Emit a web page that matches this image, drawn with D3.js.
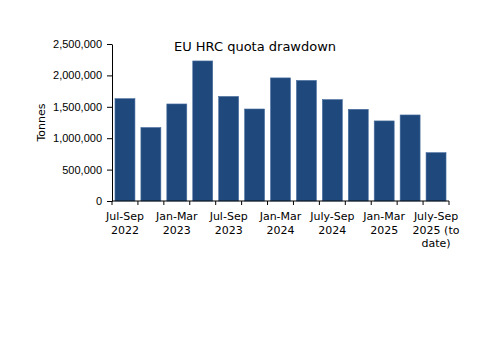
<!DOCTYPE html>
<html>
<head>
<meta charset="utf-8">
<script src="https://cdn.jsdelivr.net/npm/d3@7"></script>
<style>
  body { margin: 0; background: #fff; }
  svg { font-family: "DejaVu Sans", Verdana, sans-serif; }
</style>
</head>
<body>
<svg id="chart" width="500" height="353"></svg>
<script>
// quarters, one bar each
const quarters = ['Jul-Sep 2022', 'Oct-Dec 2022', 'Jan-Mar 2023', 'Apr-Jun 2023', 'Jul-Sep 2023', 'Oct-Dec 2023',
    'Jan-Mar 2024', 'Apr-Jun 2024', 'July-Sep 2024', 'Oct-Dec 2024', 'Jan-Mar 2025', 'Apr-Jun 2025', 'July-Sep 2025 (to date)'];
// tonnes drawn from the quota
const tonnes = [1630000, 1170000, 1545000, 2230000, 1665000, 1465000,
    1960000, 1920000, 1615000, 1460000, 1275000, 1370000, 770000];
// only every other quarter gets a label, split on lines
const tickLabels = [['Jul-Sep', '2022'], [], ['Jan-Mar', '2023'], [], ['Jul-Sep', '2023'], [],
    ['Jan-Mar', '2024'], [], ['July-Sep', '2024'], [], ['Jan-Mar', '2025'], [], ['July-Sep', '2025 (to', 'date)']];
const yTicks = [0, 500000, 1000000, 1500000, 2000000, 2500000];

const MARGIN = { left: 112, right: 51, top: 44, bottom: 152 };
const WIDTH = 500, HEIGHT = 353;
const BAR_COLOR = '#1f497d';

const svg = d3.select('#chart');
const data = quarters.map((q, i) => ({ q, v: tonnes[i], label: tickLabels[i] }));

const PAD = 0.23;
const xScale = d3.scaleBand()
    .domain(quarters)
    .range([MARGIN.left, WIDTH - MARGIN.right])
    .paddingInner(PAD)
    .paddingOuter(PAD / 2);
const yScale = d3.scaleLinear()
    .domain([0, 2500000])
    .range([HEIGHT - MARGIN.bottom, MARGIN.top]);

// bars
svg.append('g')
    .selectAll('rect')
    .data(data)
    .join('rect')
    .attr('x', d => xScale(d.q))
    .attr('y', d => yScale(d.v))
    .attr('width', xScale.bandwidth())
    .attr('height', d => yScale(0) - yScale(d.v))
    .attr('fill', BAR_COLOR)
    .attr('stroke', '#4a6f9f')
    .attr('stroke-width', 0.6);

// y axis
const yAxis = svg.append('g')
    .attr('transform', `translate(${MARGIN.left},0)`)
    .call(d3.axisLeft(yScale).tickValues(yTicks).tickFormat(d3.format(',')).tickSize(5).tickSizeOuter(0));
yAxis.selectAll('text').attr('font-size', 11).attr('fill', '#000').attr('font-family', null).attr('dx', '-2');
yAxis.selectAll('line, path').attr('stroke', '#000');

// x axis: ticks sit on band boundaries, labels centred on bars
const step = xScale.step();
const boundaries = quarters.map(q => xScale(q) - step * PAD / 2).concat([WIDTH - MARGIN.right]);
const xAxisG = svg.append('g').attr('transform', `translate(0,${yScale(0)})`);
xAxisG.append('line')
    .attr('x1', MARGIN.left).attr('x2', WIDTH - MARGIN.right)
    .attr('stroke', '#000');
xAxisG.selectAll('.tk')
    .data(boundaries)
    .join('line')
    .attr('class', 'tk')
    .attr('x1', d => d).attr('x2', d => d)
    .attr('y1', 0).attr('y2', 4)
    .attr('stroke', '#000');
xAxisG.selectAll('.lbl')
    .data(data)
    .join('text')
    .attr('class', 'lbl')
    .attr('text-anchor', 'middle')
    .attr('font-size', 11)
    .attr('x', d => xScale(d.q) + xScale.bandwidth() / 2)
    .attr('y', 19)
    .selectAll('tspan')
    .data(d => d.label.map(t => ({ t, x: xScale(d.q) + xScale.bandwidth() / 2 })))
    .join('tspan')
    .attr('x', d => d.x)
    .attr('dy', (d, i) => i === 0 ? 0 : 13.5)
    .text(d => d.t);

// y title
svg.append('text')
    .attr('transform', `translate(45,${(yScale(0) + yScale(2500000)) / 2}) rotate(-90)`)
    .attr('text-anchor', 'middle')
    .attr('font-size', 11)
    .text('Tonnes');

// chart title
svg.append('text')
    .attr('x', 255)
    .attr('y', 51)
    .attr('text-anchor', 'middle')
    .attr('font-size', 13)
    .text('EU HRC quota drawdown');
</script>
</body>
</html>
